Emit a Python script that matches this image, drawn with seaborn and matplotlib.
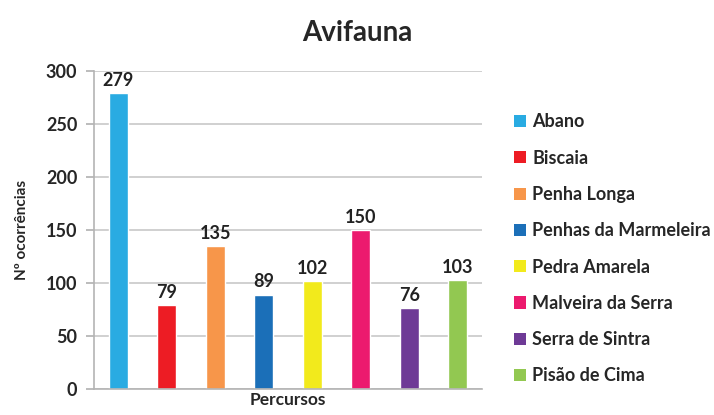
import matplotlib
matplotlib.use("Agg")
import matplotlib.pyplot as plt
import seaborn as sns
import pandas as pd
from matplotlib.patches import Patch

percursos = ["Abano", "Biscaia", "Penha Longa", "Penhas da Marmeleira",
             "Pedra Amarela", "Malveira da Serra", "Serra de Sintra", "Pisão de Cima"]
ocorrencias = [279, 79, 135, 89, 102, 150, 76, 103]
cores = ["#29ABE2", "#ED1C24", "#F7964A", "#1B6FB8",
         "#F2EA1C", "#EC1A6E", "#6E3A96", "#92C851"]
y_ticks = [0, 50, 100, 150, 200, 250, 300]

sns.set_theme(style="white")
plt.rcParams["font.family"] = ["Lato", "DejaVu Sans"]

df = pd.DataFrame({"Percurso": percursos, "Ocorrencias": ocorrencias})

fig = plt.figure(figsize=(7.14, 4.15), dpi=100)
ax = fig.add_axes([94 / 714, 1 - 389 / 415, 388 / 714, 318 / 415])

sns.barplot(data=df, x="Percurso", y="Ocorrencias", hue="Percurso",
            palette=cores, width=0.4, legend=False, ax=ax, saturation=1)

ax.set_ylim(0, 300)
ax.set_yticks(y_ticks)
ax.set_xlim(-0.5, len(percursos) - 0.5)
ax.yaxis.grid(True, color="#c8c8c8", linewidth=1.2)
ax.set_axisbelow(True)
for side in ["top", "right"]:
    ax.spines[side].set_visible(False)
for side in ["left", "bottom"]:
    ax.spines[side].set_color("#b4b4b4")
    ax.spines[side].set_linewidth(1.2)
ax.tick_params(axis="y", which="major", left=True, length=6, color="#b4b4b4",
               labelsize=13, pad=6)
ax.tick_params(axis="x", bottom=False, labelbottom=False)
for lbl in ax.get_yticklabels():
    lbl.set_fontweight("bold")

for i, v in enumerate(ocorrencias):
    ax.text(i, v + 4, str(v), ha="center", va="bottom",
            fontsize=13, fontweight="bold", color="#222222")

ax.set_xlabel("Percursos", fontsize=12.5, fontweight="bold", labelpad=2)
ax.set_ylabel("Nº ocorrências", fontsize=11, fontweight="bold", labelpad=12)

fig.suptitle("Avifauna", x=0.5, y=1 - 33 / 415, va="center",
             fontsize=20, fontweight="bold")

handles = [Patch(facecolor=c, edgecolor="none") for c in cores]
leg = fig.legend(handles, percursos, loc="upper left",
                 bbox_to_anchor=(498 / 714, 1 - 97 / 415),
                 frameon=False, handlelength=0.65, handleheight=0.65,
                 handletextpad=0.35, labelspacing=1.07, fontsize=13)
for t in leg.get_texts():
    t.set_fontweight("bold")

fig.savefig("out.png", dpi=100)
